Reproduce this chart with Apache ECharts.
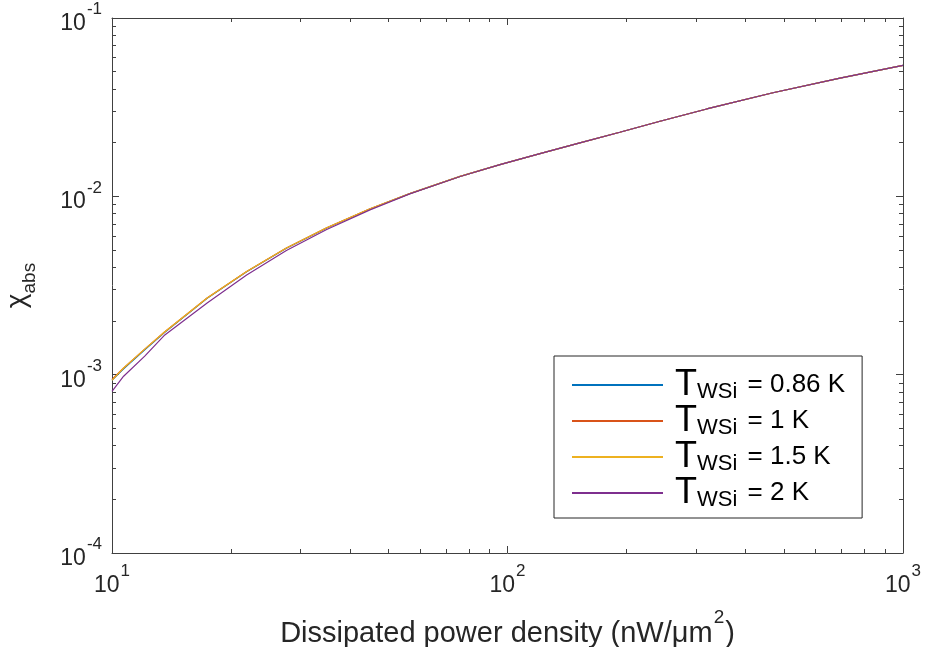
<!DOCTYPE html>
<html>
<head>
<meta charset="UTF-8">
<title>chi_abs vs dissipated power density</title>
<script src="https://cdn.jsdelivr.net/npm/echarts@6/dist/echarts.min.js"></script>
<style>
html, body { margin: 0; padding: 0; background: #fff; }
#chart { width: 927px; height: 647px; }
</style>
</head>
<body>
<div id="chart"></div>
<script>
// power density (nW/um^2)
const xVals = [10, 10.7, 12.1, 13.6, 17.4, 21.9, 27.6, 34.9, 44.9, 56.6, 75.9, 95.7, 120.8, 152.4, 192.3, 243, 319, 469, 693, 1000];
const chiT086 = [0.00093, 0.00108, 0.00138, 0.00173, 0.00268, 0.00378, 0.00512, 0.00665, 0.00849, 0.01036, 0.01294, 0.01507, 0.01737, 0.01995, 0.02287, 0.02635, 0.0309, 0.0381, 0.0460, 0.0543];
const chiT1 = [0.00094, 0.00109, 0.00139, 0.00174, 0.00269, 0.00379, 0.00513, 0.00666, 0.00850, 0.01036, 0.01294, 0.01507, 0.01737, 0.01995, 0.02287, 0.02635, 0.0309, 0.0381, 0.0460, 0.0543];
const chiT15 = [0.00093, 0.00109, 0.00139, 0.00174, 0.00269, 0.00379, 0.00513, 0.00666, 0.00850, 0.01036, 0.01294, 0.01507, 0.01737, 0.01995, 0.02287, 0.02635, 0.0309, 0.0381, 0.0460, 0.0543];
const chiT2 = [0.000805, 0.00098, 0.00127, 0.00167, 0.00252, 0.00362, 0.00497, 0.00652, 0.0084, 0.01032, 0.01292, 0.01506, 0.01737, 0.01995, 0.02287, 0.02635, 0.0309, 0.0381, 0.0460, 0.0543];
const tempLabels = ['0.86', '1', '1.5', '2'];
const xMajor = [10, 100, 1000];
const xMinor = [20, 30, 40, 50, 60, 70, 80, 90, 200, 300, 400, 500, 600, 700, 800, 900];
const yMajor = [0.0001, 0.001, 0.01, 0.1];
const yMinor = [0.0002, 0.0003, 0.0004, 0.0005, 0.0006, 0.0007, 0.0008, 0.0009,
  0.002, 0.003, 0.004, 0.005, 0.006, 0.007, 0.008, 0.009,
  0.02, 0.03, 0.04, 0.05, 0.06, 0.07, 0.08, 0.09];

const colors = ['#0072BD', '#D95319', '#EDB120', '#7E2F8E'];
const font = 'Liberation Sans';
const axisColor = '#404040';

const tickRich = {
  b: { fontFamily: font, fontSize: 23, color: '#262626', lineHeight: 34, verticalAlign: 'bottom' },
  s: { fontFamily: font, fontSize: 17, color: '#262626', lineHeight: 34, verticalAlign: 'top', padding: [0, 0, 10, 1] }
};
function powLabel(v) {
  return '{b|10}{s|' + Math.round(Math.log10(v)) + '}';
}

function mkAxis(type, pos, min, max, vals, len, isMain, showLabel) {
  return {
    type: 'log', logBase: 10, position: pos, min: min, max: max,
    axisLine: { show: isMain, onZero: false, lineStyle: { color: axisColor, width: 1 } },
    axisTick: { show: true, inside: true, length: len, customValues: vals, lineStyle: { color: axisColor, width: 1 } },
    axisLabel: showLabel ? { show: true, customValues: vals, formatter: powLabel, rich: tickRich, margin: 10 } : { show: false },
    splitLine: { show: false },
    minorTick: { show: false }
  };
}

const xAxes = [
  mkAxis('x', 'bottom', 10, 1000, xMajor, 7, true, true),
  mkAxis('x', 'bottom', 10, 1000, xMinor, 4, false, false),
  mkAxis('x', 'top', 10, 1000, xMajor, 7, true, false),
  mkAxis('x', 'top', 10, 1000, xMinor, 4, false, false)
];
xAxes[0].name = '{a|Dissipated power density (nW/μm}{s|2}{a|)}';
xAxes[0].nameLocation = 'middle';
xAxes[0].nameGap = 55;
xAxes[0].nameTextStyle = {
  rich: {
    a: { fontFamily: font, fontSize: 29, color: '#262626', lineHeight: 40, verticalAlign: 'bottom' },
    s: { fontFamily: font, fontSize: 19, color: '#262626', lineHeight: 40, verticalAlign: 'top', padding: [0, 1, 12, 1] }
  }
};

const yAxes = [
  mkAxis('y', 'left', 0.0001, 0.1, yMajor, 7, true, true),
  mkAxis('y', 'left', 0.0001, 0.1, yMinor, 4, false, false),
  mkAxis('y', 'right', 0.0001, 0.1, yMajor, 7, true, false),
  mkAxis('y', 'right', 0.0001, 0.1, yMinor, 4, false, false)
];
yAxes[0].name = '{c|χ}{s|abs}';
yAxes[0].nameLocation = 'middle';
yAxes[0].nameGap = 73;
yAxes[0].nameTextStyle = {
  rich: {
    c: { fontFamily: font, fontSize: 28, color: '#262626', lineHeight: 36, verticalAlign: 'top' },
    s: { fontFamily: font, fontSize: 19, color: '#262626', lineHeight: 36, verticalAlign: 'bottom' }
  }
};

const seriesY = [chiT086, chiT1, chiT15, chiT2];
const series = seriesY.map((ys, i) => ({
  name: tempLabels[i],
  type: 'line',
  data: xVals.map((x, j) => [x, ys[j]]),
  xAxisIndex: 0,
  yAxisIndex: 0,
  showSymbol: false,
  symbol: 'none',
  smooth: false,
  lineStyle: { color: colors[i], width: 1.2 },
  itemStyle: { color: colors[i] },
  z: 2 + i
}));

const chart = echarts.init(document.getElementById('chart'), null, { renderer: 'canvas' });
chart.setOption({
  animation: false,
  backgroundColor: '#fff',
  grid: { left: 112, right: 24, top: 18, bottom: 94, containLabel: false, outerBoundsMode: 'none' },
  xAxis: xAxes,
  yAxis: yAxes,
  legend: {
    orient: 'vertical',
    left: 554,
    top: 356,
    backgroundColor: '#fff',
    borderColor: '#262626',
    borderWidth: 1,
    borderRadius: 0,
    padding: [11, 17, 7, 18],
    itemGap: 0,
    itemWidth: 91,
    itemHeight: 2,
    icon: 'rect',
    data: tempLabels,
    formatter: function (name) {
      return '{t|T}{w|WSi}{e| = ' + name + ' K}';
    },
    textStyle: {
      rich: {
        t: { fontFamily: font, fontSize: 36, color: '#000', lineHeight: 36, verticalAlign: 'top', padding: [0, 0, 0, 7] },
        w: { fontFamily: font, fontSize: 22, color: '#000', lineHeight: 36, verticalAlign: 'bottom' },
        e: { fontFamily: font, fontSize: 26, color: '#000', lineHeight: 36, verticalAlign: 'middle', padding: [0, 0, 0, 3] }
      }
    }
  },
  series: series
});
</script>
</body>
</html>
